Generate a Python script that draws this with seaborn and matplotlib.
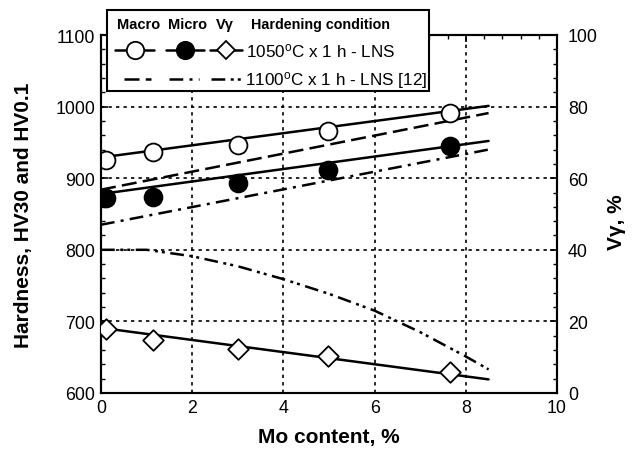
import numpy as np
import pandas as pd
import matplotlib
matplotlib.use("Agg")
import matplotlib.pyplot as plt
from matplotlib.lines import Line2D
from matplotlib.patches import Rectangle
import seaborn as sns

# ---------------- data ----------------
mo_pts = [0.1, 1.15, 3.0, 4.98, 7.65]
macro_pts = [925, 937, 946, 966, 991]
micro_pts = [872, 874, 893, 911, 945]
vg_pts = [17.8, 14.8, 12.2, 10.4, 6.0]

fit_x = [0.0, 8.5]
macro_fit = [929, 1001]
micro_fit = [878, 952]
vg_fit = [18.2, 3.8]

ref_x = [0.0, 8.5]
macro_ref = [884, 991]
micro_ref = [835, 940]

vg_ref_x = [0.0, 1.0, 2.0, 3.0, 4.0, 5.0, 6.0, 7.0, 7.5, 8.0, 8.5]
vg_ref = [40.0, 40.0, 38.2, 35.4, 31.8, 27.7, 23.0, 17.0, 13.6, 10.2, 6.6]

x_ticks = [0, 2, 4, 6, 8, 10]
y_ticks = [600, 700, 800, 900, 1000, 1100]
y2_ticks = [0, 20, 40, 60, 80, 100]

# ---------------- style ----------------
sns.set_style("white")
plt.rcParams["font.family"] = ["Liberation Sans", "DejaVu Sans"]
plt.rcParams["mathtext.fontset"] = "custom"
plt.rcParams["mathtext.rm"] = "Liberation Sans"
plt.rcParams["mathtext.it"] = "Liberation Sans:italic"
for key in ["text.color", "axes.labelcolor", "xtick.color", "ytick.color",
            "axes.edgecolor"]:
    plt.rcParams[key] = "black"

fig = plt.figure(figsize=(6.37, 4.52), dpi=100)
ax = fig.add_axes([101 / 637, 1 - 394 / 452, (557 - 101) / 637, (394 - 36) / 452])
ax2 = ax.twinx()

lw = 1.8
k = "black"
dash = (0, (6, 2.5))
dashdot = (0, (5.5, 2.5, 1.2, 2.5))
dashdotdot = (0, (5.5, 2.2, 1.2, 1.6, 1.2, 2.2))

# fit lines (1050 C)
sns.lineplot(x=fit_x, y=macro_fit, ax=ax, color=k, lw=lw)
sns.lineplot(x=fit_x, y=micro_fit, ax=ax, color=k, lw=lw)
sns.lineplot(x=fit_x, y=vg_fit, ax=ax2, color=k, lw=lw)
# reference lines (1100 C)
sns.lineplot(x=ref_x, y=macro_ref, ax=ax, color=k, lw=lw, linestyle=dash)
sns.lineplot(x=ref_x, y=micro_ref, ax=ax, color=k, lw=lw, linestyle=dashdot)
sns.lineplot(x=vg_ref_x, y=vg_ref, ax=ax2, color=k, lw=lw, linestyle=dashdotdot)

# markers
sns.scatterplot(x=mo_pts, y=macro_pts, ax=ax, marker="o", s=165, facecolor="white",
                edgecolor=k, linewidth=1.3, zorder=5)
sns.scatterplot(x=mo_pts, y=micro_pts, ax=ax, marker="o", s=165, color=k,
                edgecolor=k, linewidth=1.3, zorder=5)
sns.scatterplot(x=mo_pts, y=vg_pts, ax=ax2, marker="D", s=110, facecolor="white",
                edgecolor=k, linewidth=1.3, zorder=5)

# axes
ax.set_xlim(0, 10)
ax.set_ylim(600, 1100)
ax2.set_ylim(0, 100)
ax.set_xticks(x_ticks)
ax.set_yticks(y_ticks)
ax2.set_yticks(y2_ticks)
ax.set_xticks(np.arange(0, 10.01, 0.4), minor=True)
ax.set_yticks(np.arange(600, 1100.1, 20), minor=True)
ax2.set_yticks(np.arange(0, 100.1, 4), minor=True)
ax.tick_params(axis="both", which="major", direction="in", length=5, width=1.2,
               labelsize=12.8, top=True, pad=4, colors=k)
ax.tick_params(axis="both", which="minor", direction="in", length=3, width=1.0, top=True)
ax.tick_params(axis="y", right=False)
ax2.tick_params(axis="y", which="major", direction="in", length=5, width=1.2,
                labelsize=12.8, pad=8, colors=k)
ax2.tick_params(axis="y", which="minor", direction="in", length=3, width=1.0)
for a in (ax, ax2):
    for s in a.spines.values():
        s.set_linewidth(1.5)
        s.set_color(k)

ax.grid(True, which="major", color=k, linestyle=(0, (2, 2.5)), linewidth=1.2)
ax.set_axisbelow(True)

ax.set_xlabel("Mo content, %", fontsize=15, fontweight="bold", color=k)
ax.set_ylabel("Hardness, HV30 and HV0.1", fontsize=15, fontweight="bold", color=k)
ax2.set_ylabel("V\u03b3, %", fontsize=15, fontweight="bold", color=k)
ax.xaxis.set_label_coords(0.5, -0.095)
ax.yaxis.set_label_coords(-0.15, 0.5)
ax2.yaxis.set_label_coords(1.11, 0.48)

# ---------------- custom legend (table layout) ----------------
def fx(px):
    return px / 637

def fy(py):
    return 1 - py / 452

fig.patches.append(Rectangle((fx(107), fy(92)), fx(429) - fx(107), fy(11) - fy(92),
                             transform=fig.transFigure, facecolor="white",
                             edgecolor=k, linewidth=1.5, zorder=10))

hdr_y = fy(25)
for txt, cx in [("Macro", 139), ("Micro", 188), ("V\u03b3", 225)]:
    fig.text(fx(cx), hdr_y, txt, ha="center", va="center", fontsize=10.5,
             fontweight="bold", zorder=11)
fig.text(fx(251), hdr_y, "Hardening condition", ha="left", va="center",
         fontsize=10.3, fontweight="bold", zorder=11)

r2 = fy(51)
r3 = fy(80)
samples = [
    (115, 154, r2, "o", "white", 12.5),
    (166, 204, r2, "o", k, 12.5),
    (210, 242, r2, "D", "white", 9.5),
]
for x0, x1, yy, mk, fc, ms in samples:
    fig.add_artist(Line2D([fx(x0), fx(x1)], [yy, yy], color=k, lw=lw,
                          transform=fig.transFigure, zorder=11))
    fig.add_artist(Line2D([(fx(x0) + fx(x1)) / 2], [yy], marker=mk, ms=ms,
                          markerfacecolor=fc, markeredgecolor=k, mew=1.3,
                          transform=fig.transFigure, zorder=12))
for x0, x1, ls in [(124, 151, dash), (169, 199, dashdot), (211, 244, dashdotdot)]:
    fig.add_artist(Line2D([fx(x0), fx(x1)], [r3, r3], color=k, lw=lw, ls=ls,
                          transform=fig.transFigure, zorder=11))
fig.text(fx(246), r2, r"1050$^{\rm o}$C x 1 h - LNS", ha="left", va="center",
         fontsize=12.3, zorder=11)
fig.text(fx(245), r3, r"1100$^{\rm o}$C x 1 h - LNS [12]", ha="left", va="center",
         fontsize=12.3, zorder=11)

fig.savefig("out.png", dpi=100)
